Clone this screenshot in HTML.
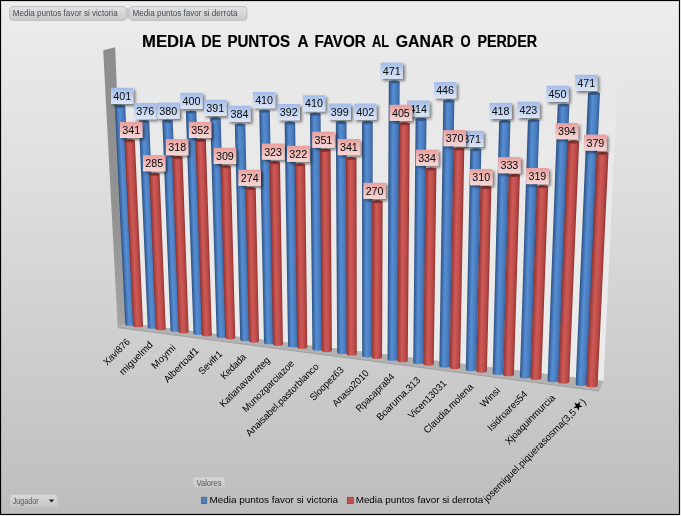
<!DOCTYPE html>
<html><head><meta charset="utf-8"><title>Media de puntos a favor al ganar o perder</title>
<style>
html,body{margin:0;padding:0;background:#fff;}
body{width:681px;height:516px;overflow:hidden;font-family:"Liberation Sans",sans-serif;}
svg{display:block;}
text{font-family:"Liberation Sans","DejaVu Sans",sans-serif;}
</style></head><body>
<svg width="681" height="516" viewBox="0 0 681 516">
<defs>
<linearGradient id="bg" x1="0" y1="0" x2="0" y2="1">
<stop offset="0" stop-color="#ededed"/><stop offset="0.4" stop-color="#dcdcdc"/><stop offset="1" stop-color="#bdbdbd"/>
</linearGradient>
<linearGradient id="gb" x1="0" y1="0" x2="1" y2="0">
<stop offset="0" stop-color="#2b4e7e"/><stop offset="0.12" stop-color="#3b66a1"/><stop offset="0.4" stop-color="#568ed4"/><stop offset="0.7" stop-color="#4b7fc1"/><stop offset="0.9" stop-color="#406dab"/><stop offset="1" stop-color="#345b92"/>
</linearGradient>
<linearGradient id="gr" x1="0" y1="0" x2="1" y2="0">
<stop offset="0" stop-color="#862f2d"/><stop offset="0.14" stop-color="#aa4340"/><stop offset="0.42" stop-color="#cf5a57"/><stop offset="0.7" stop-color="#c04e4b"/><stop offset="0.9" stop-color="#a7403d"/><stop offset="1" stop-color="#8b3230"/>
</linearGradient>
<linearGradient id="lb" x1="0" y1="0" x2="0" y2="1">
<stop offset="0" stop-color="#a3bce8"/><stop offset="1" stop-color="#dde6f6"/>
</linearGradient>
<linearGradient id="lr" x1="0" y1="0" x2="0" y2="1">
<stop offset="0" stop-color="#e89f9d"/><stop offset="1" stop-color="#f5d8d7"/>
</linearGradient>
<linearGradient id="btn" x1="0" y1="0" x2="0" y2="1">
<stop offset="0" stop-color="#e3e3e3"/><stop offset="0.5" stop-color="#d6d6d6"/><stop offset="1" stop-color="#c9c9c9"/>
</linearGradient>
<linearGradient id="btn2" x1="0" y1="0" x2="0" y2="1">
<stop offset="0" stop-color="#d8d8d8"/><stop offset="1" stop-color="#c6c6c6"/>
</linearGradient>
<linearGradient id="wall" x1="0" y1="0" x2="0" y2="1">
<stop offset="0" stop-color="#8d8d8d"/><stop offset="0.6" stop-color="#939393"/><stop offset="1" stop-color="#a4a4a4"/>
</linearGradient>
<linearGradient id="back" x1="0" y1="0" x2="0" y2="1">
<stop offset="0" stop-color="#e8e8e8"/><stop offset="1" stop-color="#ebebeb"/>
</linearGradient>
<filter id="sh" x="-20%" y="-20%" width="150%" height="160%">
<feGaussianBlur in="SourceAlpha" stdDeviation="1.4"/><feOffset dx="1.7" dy="1.7"/>
<feComponentTransfer><feFuncA type="linear" slope="0.5"/></feComponentTransfer>
<feMerge><feMergeNode/><feMergeNode in="SourceGraphic"/></feMerge>
</filter>
</defs>
<rect x="0" y="0" width="681" height="516" fill="#ffffff"/>
<rect x="0.5" y="0.5" width="679" height="514" fill="url(#bg)" stroke="#000" stroke-width="1.2"/>

<rect x="124" y="8.5" width="8" height="10" fill="#c8c8c8"/>
<rect x="9.5" y="6.6" width="117.0" height="13.8" rx="3.5" ry="3.5" fill="url(#btn)" stroke="#c0c0c0" stroke-width="1"/>
<text x="12.7" y="15.9" font-size="8.9" fill="#464b55" textLength="105" lengthAdjust="spacingAndGlyphs">Media puntos favor si victoria</text>
<rect x="129.3" y="6.6" width="117.7" height="13.8" rx="3.5" ry="3.5" fill="url(#btn)" stroke="#c0c0c0" stroke-width="1"/>
<text x="132.6" y="15.9" font-size="8.9" fill="#464b55" textLength="104.8" lengthAdjust="spacingAndGlyphs">Media puntos favor si derrota</text>
<text y="47.2" font-size="16.8" font-weight="bold" fill="#000" stroke="#000" stroke-width="0.2"><tspan x="142.0" textLength="53.1" lengthAdjust="spacingAndGlyphs">MEDIA</tspan> <tspan x="201.2" textLength="20.1" lengthAdjust="spacingAndGlyphs">DE</tspan> <tspan x="227.4" textLength="62.6" lengthAdjust="spacingAndGlyphs">PUNTOS</tspan> <tspan x="297.4" textLength="10.5" lengthAdjust="spacingAndGlyphs">A</tspan> <tspan x="314.4" textLength="51.5" lengthAdjust="spacingAndGlyphs">FAVOR</tspan> <tspan x="372.1" textLength="16.9" lengthAdjust="spacingAndGlyphs">AL</tspan> <tspan x="395.8" textLength="58.0" lengthAdjust="spacingAndGlyphs">GANAR</tspan> <tspan x="460.6" textLength="10.1" lengthAdjust="spacingAndGlyphs">O</tspan> <tspan x="477.5" textLength="59.5" lengthAdjust="spacingAndGlyphs">PERDER</tspan></text>
<polygon points="115.2,47.3 618,73.3 603.6,381 125,322.8" fill="url(#back)"/>
<polygon points="103.2,50.2 115.2,47.3 126,322.9 117.7,327.2" fill="url(#wall)"/>
<polygon points="117.7,327.6 125,322.8 603.6,381 599.2,391" fill="#b2b2b2"/>
<polyline points="117.7,327.6 599.2,391" fill="none" stroke="#a0a0a0" stroke-width="1"/>
<linearGradient id="gb1" href="#gb" gradientUnits="userSpaceOnUse" x1="120.03" y1="215.42" x2="130.24" y2="214.94"/>
<path d="M125.24,324.13 A5.00,1.7 0 0 0 135.24,324.13 L125.25,106.23 A5.22,1.53 0 0 0 114.81,106.23 Z" fill="url(#gb1)"/>
<ellipse cx="120.03" cy="106.23" rx="5.22" ry="1.53" fill="#3a6496"/>
<linearGradient id="gr2" href="#gr" gradientUnits="userSpaceOnUse" x1="128.76" y1="233.41" x2="138.94" y2="232.95"/>
<path d="M133.04,325.63 A5.00,1.7 0 0 0 143.04,325.63 L134.85,140.73 A5.18,1.53 0 0 0 124.48,140.73 Z" fill="url(#gr2)"/>
<ellipse cx="129.66" cy="140.73" rx="5.18" ry="1.53" fill="#963633"/>
<linearGradient id="gb3" href="#gb" gradientUnits="userSpaceOnUse" x1="143.30" y1="224.70" x2="153.49" y2="224.27"/>
<path d="M147.74,327.14 A5.00,1.7 0 0 0 157.74,327.14 L149.25,121.83 A5.21,1.53 0 0 0 138.84,121.83 Z" fill="url(#gb3)"/>
<ellipse cx="144.04" cy="121.83" rx="5.21" ry="1.53" fill="#3a6496"/>
<linearGradient id="gr4" href="#gr" gradientUnits="userSpaceOnUse" x1="152.51" y1="251.64" x2="162.66" y2="251.23"/>
<path d="M155.73,328.64 A5.00,1.7 0 0 0 165.73,328.64 L159.59,174.23 A5.15,1.53 0 0 0 149.28,174.23 Z" fill="url(#gr4)"/>
<ellipse cx="154.43" cy="174.23" rx="5.15" ry="1.53" fill="#963633"/>
<linearGradient id="gb5" href="#gb" gradientUnits="userSpaceOnUse" x1="166.43" y1="225.94" x2="176.63" y2="225.56"/>
<path d="M170.48,330.17 A5.00,1.7 0 0 0 180.48,330.17 L172.78,121.33 A5.21,1.53 0 0 0 162.36,121.33 Z" fill="url(#gb5)"/>
<ellipse cx="167.57" cy="121.33" rx="5.21" ry="1.53" fill="#3a6496"/>
<linearGradient id="gr6" href="#gr" gradientUnits="userSpaceOnUse" x1="175.42" y1="244.84" x2="185.59" y2="244.47"/>
<path d="M178.66,331.67 A5.00,1.7 0 0 0 188.66,331.67 L182.53,157.63 A5.17,1.53 0 0 0 172.18,157.63 Z" fill="url(#gr6)"/>
<ellipse cx="177.35" cy="157.63" rx="5.17" ry="1.53" fill="#963633"/>
<linearGradient id="gb7" href="#gb" gradientUnits="userSpaceOnUse" x1="189.67" y1="222.95" x2="199.90" y2="222.61"/>
<path d="M193.46,333.24 A5.00,1.7 0 0 0 203.47,333.24 L196.33,112.33 A5.22,1.53 0 0 0 185.88,112.33 Z" fill="url(#gb7)"/>
<ellipse cx="191.11" cy="112.33" rx="5.22" ry="1.53" fill="#3a6496"/>
<linearGradient id="gr8" href="#gr" gradientUnits="userSpaceOnUse" x1="198.66" y1="237.65" x2="208.85" y2="237.32"/>
<path d="M201.83,334.74 A5.00,1.7 0 0 0 211.84,334.74 L205.88,140.23 A5.20,1.53 0 0 0 195.48,140.23 Z" fill="url(#gr8)"/>
<ellipse cx="200.68" cy="140.23" rx="5.20" ry="1.53" fill="#963633"/>
<linearGradient id="gb9" href="#gb" gradientUnits="userSpaceOnUse" x1="213.47" y1="227.73" x2="223.70" y2="227.44"/>
<path d="M216.70,336.34 A5.01,1.7 0 0 0 226.71,336.34 L220.69,118.83 A5.23,1.53 0 0 0 210.24,118.83 Z" fill="url(#gb9)"/>
<ellipse cx="215.47" cy="118.83" rx="5.23" ry="1.53" fill="#3a6496"/>
<linearGradient id="gr10" href="#gr" gradientUnits="userSpaceOnUse" x1="222.87" y1="252.42" x2="233.05" y2="252.15"/>
<path d="M225.26,337.84 A5.01,1.7 0 0 0 235.27,337.84 L230.83,166.73 A5.18,1.53 0 0 0 220.47,166.73 Z" fill="url(#gr10)"/>
<ellipse cx="225.65" cy="166.73" rx="5.18" ry="1.53" fill="#963633"/>
<linearGradient id="gb11" href="#gb" gradientUnits="userSpaceOnUse" x1="237.52" y1="232.33" x2="247.76" y2="232.08"/>
<path d="M240.20,339.48 A5.01,1.7 0 0 0 250.23,339.48 L245.30,124.93 A5.23,1.53 0 0 0 234.84,124.93 Z" fill="url(#gb11)"/>
<ellipse cx="240.07" cy="124.93" rx="5.23" ry="1.53" fill="#3a6496"/>
<linearGradient id="gr12" href="#gr" gradientUnits="userSpaceOnUse" x1="247.18" y1="264.92" x2="257.36" y2="264.69"/>
<path d="M248.95,340.98 A5.01,1.7 0 0 0 258.98,340.98 L255.74,188.63 A5.17,1.53 0 0 0 245.41,188.63 Z" fill="url(#gr12)"/>
<ellipse cx="250.58" cy="188.63" rx="5.17" ry="1.53" fill="#963633"/>
<linearGradient id="gb13" href="#gb" gradientUnits="userSpaceOnUse" x1="261.65" y1="227.09" x2="271.92" y2="226.89"/>
<path d="M263.99,342.65 A5.02,1.7 0 0 0 274.03,342.65 L269.82,111.33 A5.26,1.53 0 0 0 259.30,111.33 Z" fill="url(#gb13)"/>
<ellipse cx="264.56" cy="111.33" rx="5.26" ry="1.53" fill="#3a6496"/>
<linearGradient id="gr14" href="#gr" gradientUnits="userSpaceOnUse" x1="271.25" y1="253.48" x2="281.48" y2="253.30"/>
<path d="M272.93,344.15 A5.02,1.7 0 0 0 282.97,344.15 L279.99,162.63 A5.21,1.53 0 0 0 269.58,162.63 Z" fill="url(#gr14)"/>
<ellipse cx="274.78" cy="162.63" rx="5.21" ry="1.53" fill="#963633"/>
<linearGradient id="gb15" href="#gb" gradientUnits="userSpaceOnUse" x1="286.35" y1="234.57" x2="296.65" y2="234.43"/>
<path d="M288.06,345.87 A5.04,1.7 0 0 0 298.14,345.87 L295.15,123.13 A5.26,1.53 0 0 0 284.63,123.13 Z" fill="url(#gb15)"/>
<ellipse cx="289.89" cy="123.13" rx="5.26" ry="1.53" fill="#3a6496"/>
<linearGradient id="gr16" href="#gr" gradientUnits="userSpaceOnUse" x1="295.95" y1="256.11" x2="306.21" y2="255.98"/>
<path d="M297.19,347.37 A5.04,1.7 0 0 0 307.27,347.37 L305.15,164.73 A5.22,1.53 0 0 0 294.71,164.73 Z" fill="url(#gr16)"/>
<ellipse cx="299.93" cy="164.73" rx="5.22" ry="1.53" fill="#963633"/>
<linearGradient id="gb17" href="#gb" gradientUnits="userSpaceOnUse" x1="311.21" y1="231.78" x2="321.56" y2="231.68"/>
<path d="M312.44,349.12 A5.06,1.7 0 0 0 322.56,349.12 L320.56,114.33 A5.30,1.53 0 0 0 309.97,114.33 Z" fill="url(#gb17)"/>
<ellipse cx="315.26" cy="114.33" rx="5.30" ry="1.53" fill="#3a6496"/>
<linearGradient id="gr18" href="#gr" gradientUnits="userSpaceOnUse" x1="320.89" y1="250.52" x2="331.21" y2="250.44"/>
<path d="M321.76,350.62 A5.06,1.7 0 0 0 331.88,350.62 L330.55,150.33 A5.26,1.53 0 0 0 320.03,150.33 Z" fill="url(#gr18)"/>
<ellipse cx="325.29" cy="150.33" rx="5.26" ry="1.53" fill="#963633"/>
<linearGradient id="gb19" href="#gb" gradientUnits="userSpaceOnUse" x1="336.50" y1="237.55" x2="346.90" y2="237.50"/>
<path d="M337.14,352.42 A5.08,1.7 0 0 0 347.30,352.42 L346.49,122.63 A5.32,1.53 0 0 0 335.86,122.63 Z" fill="url(#gb19)"/>
<ellipse cx="341.17" cy="122.63" rx="5.32" ry="1.53" fill="#3a6496"/>
<linearGradient id="gr20" href="#gr" gradientUnits="userSpaceOnUse" x1="346.29" y1="256.19" x2="356.65" y2="256.16"/>
<path d="M346.65,353.92 A5.08,1.7 0 0 0 356.81,353.92 L356.49,158.43 A5.28,1.53 0 0 0 345.93,158.43 Z" fill="url(#gr20)"/>
<ellipse cx="351.21" cy="158.43" rx="5.28" ry="1.53" fill="#963633"/>
<linearGradient id="gb21" href="#gb" gradientUnits="userSpaceOnUse" x1="362.10" y1="239.19" x2="372.56" y2="239.20"/>
<path d="M362.17,355.76 A5.11,1.7 0 0 0 372.39,355.76 L372.74,122.63 A5.35,1.53 0 0 0 362.03,122.63 Z" fill="url(#gb21)"/>
<ellipse cx="367.39" cy="122.63" rx="5.35" ry="1.53" fill="#3a6496"/>
<linearGradient id="gr22" href="#gr" gradientUnits="userSpaceOnUse" x1="371.97" y1="279.48" x2="382.36" y2="279.51"/>
<path d="M371.87,357.26 A5.11,1.7 0 0 0 382.09,357.26 L382.62,201.73 A5.27,1.53 0 0 0 372.08,201.73 Z" fill="url(#gr22)"/>
<ellipse cx="377.35" cy="201.73" rx="5.27" ry="1.53" fill="#963633"/>
<linearGradient id="gb23" href="#gb" gradientUnits="userSpaceOnUse" x1="388.16" y1="220.56" x2="398.74" y2="220.62"/>
<path d="M387.53,359.15 A5.15,1.7 0 0 0 397.83,359.15 L399.66,82.03 A5.44,1.53 0 0 0 388.79,82.03 Z" fill="url(#gb23)"/>
<ellipse cx="394.22" cy="82.03" rx="5.44" ry="1.53" fill="#3a6496"/>
<linearGradient id="gr24" href="#gr" gradientUnits="userSpaceOnUse" x1="398.20" y1="242.15" x2="408.74" y2="242.23"/>
<path d="M397.42,360.65 A5.15,1.7 0 0 0 407.72,360.65 L409.76,123.73 A5.39,1.53 0 0 0 398.97,123.73 Z" fill="url(#gr24)"/>
<ellipse cx="404.36" cy="123.73" rx="5.39" ry="1.53" fill="#963633"/>
<linearGradient id="gb25" href="#gb" gradientUnits="userSpaceOnUse" x1="414.43" y1="241.00" x2="425.07" y2="241.11"/>
<path d="M413.25,362.58 A5.19,1.7 0 0 0 423.64,362.58 L426.50,119.53 A5.45,1.53 0 0 0 415.61,119.53 Z" fill="url(#gb25)"/>
<ellipse cx="421.06" cy="119.53" rx="5.45" ry="1.53" fill="#3a6496"/>
<linearGradient id="gr26" href="#gr" gradientUnits="userSpaceOnUse" x1="424.48" y1="266.54" x2="435.07" y2="266.67"/>
<path d="M423.33,364.08 A5.19,1.7 0 0 0 433.72,364.08 L436.41,169.13 A5.40,1.53 0 0 0 425.62,169.13 Z" fill="url(#gr26)"/>
<ellipse cx="431.02" cy="169.13" rx="5.40" ry="1.53" fill="#963633"/>
<linearGradient id="gb27" href="#gb" gradientUnits="userSpaceOnUse" x1="441.32" y1="233.51" x2="452.09" y2="233.68"/>
<path d="M439.34,366.06 A5.24,1.7 0 0 0 449.83,366.06 L454.35,101.13 A5.52,1.53 0 0 0 443.30,101.13 Z" fill="url(#gb27)"/>
<ellipse cx="448.82" cy="101.13" rx="5.52" ry="1.53" fill="#3a6496"/>
<linearGradient id="gr28" href="#gr" gradientUnits="userSpaceOnUse" x1="451.47" y1="258.15" x2="462.19" y2="258.34"/>
<path d="M449.61,367.56 A5.24,1.7 0 0 0 460.10,367.56 L464.28,148.93 A5.48,1.53 0 0 0 453.33,148.93 Z" fill="url(#gr28)"/>
<ellipse cx="458.81" cy="148.93" rx="5.48" ry="1.53" fill="#963633"/>
<linearGradient id="gb29" href="#gb" gradientUnits="userSpaceOnUse" x1="468.03" y1="259.55" x2="478.87" y2="259.78"/>
<path d="M465.80,369.60 A5.31,1.7 0 0 0 476.41,369.60 L481.34,149.73 A5.54,1.53 0 0 0 470.26,149.73 Z" fill="url(#gb29)"/>
<ellipse cx="475.80" cy="149.73" rx="5.54" ry="1.53" fill="#3a6496"/>
<linearGradient id="gr30" href="#gr" gradientUnits="userSpaceOnUse" x1="478.32" y1="279.19" x2="489.12" y2="279.44"/>
<path d="M476.26,371.10 A5.31,1.7 0 0 0 486.87,371.10 L491.38,187.53 A5.50,1.53 0 0 0 480.37,187.53 Z" fill="url(#gr30)"/>
<ellipse cx="485.87" cy="187.53" rx="5.50" ry="1.53" fill="#963633"/>
<linearGradient id="gb31" href="#gb" gradientUnits="userSpaceOnUse" x1="495.89" y1="247.21" x2="506.91" y2="247.50"/>
<path d="M492.65,373.18 A5.38,1.7 0 0 0 503.40,373.18 L510.42,121.53 A5.65,1.53 0 0 0 499.12,121.53 Z" fill="url(#gb31)"/>
<ellipse cx="504.77" cy="121.53" rx="5.65" ry="1.53" fill="#3a6496"/>
<linearGradient id="gr32" href="#gr" gradientUnits="userSpaceOnUse" x1="505.92" y1="274.95" x2="516.89" y2="275.26"/>
<path d="M503.15,374.68 A5.38,1.7 0 0 0 513.90,374.68 L519.88,175.53 A5.59,1.53 0 0 0 508.69,175.53 Z" fill="url(#gr32)"/>
<ellipse cx="514.29" cy="175.53" rx="5.59" ry="1.53" fill="#963633"/>
<linearGradient id="gb33" href="#gb" gradientUnits="userSpaceOnUse" x1="523.90" y1="248.59" x2="535.09" y2="248.96"/>
<path d="M519.90,376.82 A5.46,1.7 0 0 0 530.81,376.82 L539.37,120.73 A5.74,1.53 0 0 0 527.90,120.73 Z" fill="url(#gb33)"/>
<ellipse cx="533.64" cy="120.73" rx="5.74" ry="1.53" fill="#3a6496"/>
<linearGradient id="gr34" href="#gr" gradientUnits="userSpaceOnUse" x1="533.64" y1="282.33" x2="544.76" y2="282.72"/>
<path d="M530.44,378.32 A5.46,1.7 0 0 0 541.35,378.32 L548.17,186.73 A5.67,1.53 0 0 0 536.83,186.73 Z" fill="url(#gr34)"/>
<ellipse cx="542.50" cy="186.73" rx="5.67" ry="1.53" fill="#963633"/>
<linearGradient id="gb35" href="#gb" gradientUnits="userSpaceOnUse" x1="552.63" y1="242.70" x2="564.03" y2="243.14"/>
<path d="M547.56,380.51 A5.55,1.7 0 0 0 558.66,380.51 L569.41,105.33 A5.86,1.53 0 0 0 557.70,105.33 Z" fill="url(#gb35)"/>
<ellipse cx="563.56" cy="105.33" rx="5.86" ry="1.53" fill="#3a6496"/>
<linearGradient id="gr36" href="#gr" gradientUnits="userSpaceOnUse" x1="562.82" y1="261.84" x2="574.18" y2="262.30"/>
<path d="M558.14,382.01 A5.55,1.7 0 0 0 569.24,382.01 L579.13,142.13 A5.82,1.53 0 0 0 567.49,142.13 Z" fill="url(#gr36)"/>
<ellipse cx="573.31" cy="142.13" rx="5.82" ry="1.53" fill="#963633"/>
<linearGradient id="gb37" href="#gb" gradientUnits="userSpaceOnUse" x1="581.84" y1="238.64" x2="593.46" y2="239.15"/>
<path d="M575.65,384.26 A5.65,1.7 0 0 0 586.95,384.26 L599.98,93.53 A5.98,1.53 0 0 0 588.02,93.53 Z" fill="url(#gb37)"/>
<ellipse cx="594.00" cy="93.53" rx="5.98" ry="1.53" fill="#3a6496"/>
<linearGradient id="gr38" href="#gr" gradientUnits="userSpaceOnUse" x1="591.47" y1="269.38" x2="603.02" y2="269.91"/>
<path d="M586.27,385.76 A5.65,1.7 0 0 0 597.57,385.76 L608.48,153.53 A5.92,1.53 0 0 0 596.65,153.53 Z" fill="url(#gr38)"/>
<ellipse cx="602.57" cy="153.53" rx="5.92" ry="1.53" fill="#963633"/>
<g filter="url(#sh)"><rect x="111.0" y="87.8" width="22.3" height="16.2" fill="url(#lb)"/></g>
 <text x="122.2" y="99.8" font-size="10" text-anchor="middle" fill="#0a0a0a" textLength="17.9" lengthAdjust="spacingAndGlyphs">401</text>
<g filter="url(#sh)"><rect x="134.1" y="103.0" width="22.3" height="16.2" fill="url(#lb)"/></g>
 <text x="145.2" y="115.0" font-size="10" text-anchor="middle" fill="#0a0a0a" textLength="17.9" lengthAdjust="spacingAndGlyphs">376</text>
<g filter="url(#sh)"><rect x="157.2" y="102.6" width="22.3" height="16.2" fill="url(#lb)"/></g>
 <text x="168.3" y="114.6" font-size="10" text-anchor="middle" fill="#0a0a0a" textLength="17.9" lengthAdjust="spacingAndGlyphs">380</text>
<g filter="url(#sh)"><rect x="180.3" y="92.8" width="22.3" height="16.2" fill="url(#lb)"/></g>
 <text x="191.5" y="104.8" font-size="10" text-anchor="middle" fill="#0a0a0a" textLength="17.9" lengthAdjust="spacingAndGlyphs">400</text>
<g filter="url(#sh)"><rect x="204.2" y="99.8" width="22.3" height="16.2" fill="url(#lb)"/></g>
 <text x="215.3" y="111.8" font-size="10" text-anchor="middle" fill="#0a0a0a" textLength="17.9" lengthAdjust="spacingAndGlyphs">391</text>
<g filter="url(#sh)"><rect x="228.3" y="105.7" width="22.3" height="16.2" fill="url(#lb)"/></g>
 <text x="239.5" y="117.7" font-size="10" text-anchor="middle" fill="#0a0a0a" textLength="17.9" lengthAdjust="spacingAndGlyphs">384</text>
<g filter="url(#sh)"><rect x="253.0" y="92.0" width="22.3" height="16.2" fill="url(#lb)"/></g>
 <text x="264.1" y="104.0" font-size="10" text-anchor="middle" fill="#0a0a0a" textLength="17.9" lengthAdjust="spacingAndGlyphs">410</text>
<g filter="url(#sh)"><rect x="277.7" y="104.0" width="22.3" height="16.2" fill="url(#lb)"/></g>
 <text x="288.8" y="116.0" font-size="10" text-anchor="middle" fill="#0a0a0a" textLength="17.9" lengthAdjust="spacingAndGlyphs">392</text>
<g filter="url(#sh)"><rect x="302.9" y="95.3" width="22.3" height="16.2" fill="url(#lb)"/></g>
 <text x="314.0" y="107.3" font-size="10" text-anchor="middle" fill="#0a0a0a" textLength="17.9" lengthAdjust="spacingAndGlyphs">410</text>
<g filter="url(#sh)"><rect x="328.6" y="103.6" width="22.3" height="16.2" fill="url(#lb)"/></g>
 <text x="339.8" y="115.6" font-size="10" text-anchor="middle" fill="#0a0a0a" textLength="17.9" lengthAdjust="spacingAndGlyphs">399</text>
<g filter="url(#sh)"><rect x="354.2" y="103.6" width="22.3" height="16.2" fill="url(#lb)"/></g>
 <text x="365.3" y="115.6" font-size="10" text-anchor="middle" fill="#0a0a0a" textLength="17.9" lengthAdjust="spacingAndGlyphs">402</text>
<g filter="url(#sh)"><rect x="380.6" y="62.6" width="22.3" height="16.2" fill="url(#lb)"/></g>
 <text x="391.8" y="74.6" font-size="10" text-anchor="middle" fill="#0a0a0a" textLength="17.9" lengthAdjust="spacingAndGlyphs">471</text>
<g filter="url(#sh)"><rect x="407.0" y="100.5" width="22.3" height="16.2" fill="url(#lb)"/></g>
 <text x="418.1" y="112.5" font-size="10" text-anchor="middle" fill="#0a0a0a" textLength="17.9" lengthAdjust="spacingAndGlyphs">414</text>
<g filter="url(#sh)"><rect x="434.0" y="82.1" width="22.3" height="16.2" fill="url(#lb)"/></g>
 <text x="445.1" y="94.1" font-size="10" text-anchor="middle" fill="#0a0a0a" textLength="17.9" lengthAdjust="spacingAndGlyphs">446</text>
<g filter="url(#sh)"><rect x="461.0" y="130.8" width="22.3" height="16.2" fill="url(#lb)"/></g>
 <text x="472.1" y="142.8" font-size="10" text-anchor="middle" fill="#0a0a0a" textLength="17.9" lengthAdjust="spacingAndGlyphs">371</text>
<g filter="url(#sh)"><rect x="489.5" y="102.8" width="22.3" height="16.2" fill="url(#lb)"/></g>
 <text x="500.6" y="114.8" font-size="10" text-anchor="middle" fill="#0a0a0a" textLength="17.9" lengthAdjust="spacingAndGlyphs">418</text>
<g filter="url(#sh)"><rect x="517.2" y="101.8" width="22.3" height="16.2" fill="url(#lb)"/></g>
 <text x="528.4" y="113.8" font-size="10" text-anchor="middle" fill="#0a0a0a" textLength="17.9" lengthAdjust="spacingAndGlyphs">423</text>
<g filter="url(#sh)"><rect x="546.4" y="85.8" width="22.3" height="16.2" fill="url(#lb)"/></g>
 <text x="557.5" y="97.8" font-size="10" text-anchor="middle" fill="#0a0a0a" textLength="17.9" lengthAdjust="spacingAndGlyphs">450</text>
<g filter="url(#sh)"><rect x="575.1" y="74.8" width="22.3" height="16.2" fill="url(#lb)"/></g>
 <text x="586.2" y="86.8" font-size="10" text-anchor="middle" fill="#0a0a0a" textLength="17.9" lengthAdjust="spacingAndGlyphs">471</text>
<g filter="url(#sh)"><rect x="120.0" y="121.9" width="22.5" height="16.1" fill="url(#lr)"/></g>
 <text x="131.2" y="133.8" font-size="10" text-anchor="middle" fill="#0a0a0a" textLength="17.9" lengthAdjust="spacingAndGlyphs">341</text>
<g filter="url(#sh)"><rect x="143.0" y="155.2" width="22.5" height="16.1" fill="url(#lr)"/></g>
 <text x="154.2" y="167.1" font-size="10" text-anchor="middle" fill="#0a0a0a" textLength="17.9" lengthAdjust="spacingAndGlyphs">285</text>
<g filter="url(#sh)"><rect x="165.9" y="139.1" width="22.5" height="16.1" fill="url(#lr)"/></g>
 <text x="177.2" y="151.0" font-size="10" text-anchor="middle" fill="#0a0a0a" textLength="17.9" lengthAdjust="spacingAndGlyphs">318</text>
<g filter="url(#sh)"><rect x="188.9" y="121.9" width="22.5" height="16.1" fill="url(#lr)"/></g>
 <text x="200.2" y="133.8" font-size="10" text-anchor="middle" fill="#0a0a0a" textLength="17.9" lengthAdjust="spacingAndGlyphs">352</text>
<g filter="url(#sh)"><rect x="213.7" y="147.8" width="22.5" height="16.1" fill="url(#lr)"/></g>
 <text x="224.9" y="159.7" font-size="10" text-anchor="middle" fill="#0a0a0a" textLength="17.9" lengthAdjust="spacingAndGlyphs">309</text>
<g filter="url(#sh)"><rect x="238.4" y="169.7" width="22.5" height="16.1" fill="url(#lr)"/></g>
 <text x="249.7" y="181.6" font-size="10" text-anchor="middle" fill="#0a0a0a" textLength="17.9" lengthAdjust="spacingAndGlyphs">274</text>
<g filter="url(#sh)"><rect x="261.9" y="143.6" width="22.5" height="16.1" fill="url(#lr)"/></g>
 <text x="273.1" y="155.5" font-size="10" text-anchor="middle" fill="#0a0a0a" textLength="17.9" lengthAdjust="spacingAndGlyphs">323</text>
<g filter="url(#sh)"><rect x="287.0" y="145.8" width="22.5" height="16.1" fill="url(#lr)"/></g>
 <text x="298.2" y="157.7" font-size="10" text-anchor="middle" fill="#0a0a0a" textLength="17.9" lengthAdjust="spacingAndGlyphs">322</text>
<g filter="url(#sh)"><rect x="312.2" y="131.7" width="22.5" height="16.1" fill="url(#lr)"/></g>
 <text x="323.4" y="143.6" font-size="10" text-anchor="middle" fill="#0a0a0a" textLength="17.9" lengthAdjust="spacingAndGlyphs">351</text>
<g filter="url(#sh)"><rect x="337.7" y="139.0" width="22.5" height="16.1" fill="url(#lr)"/></g>
 <text x="348.9" y="150.9" font-size="10" text-anchor="middle" fill="#0a0a0a" textLength="17.9" lengthAdjust="spacingAndGlyphs">341</text>
<g filter="url(#sh)"><rect x="363.4" y="182.8" width="22.5" height="16.1" fill="url(#lr)"/></g>
 <text x="374.6" y="194.7" font-size="10" text-anchor="middle" fill="#0a0a0a" textLength="17.9" lengthAdjust="spacingAndGlyphs">270</text>
<g filter="url(#sh)"><rect x="389.6" y="104.8" width="22.5" height="16.1" fill="url(#lr)"/></g>
 <text x="400.9" y="116.7" font-size="10" text-anchor="middle" fill="#0a0a0a" textLength="17.9" lengthAdjust="spacingAndGlyphs">405</text>
<g filter="url(#sh)"><rect x="415.8" y="149.7" width="22.5" height="16.1" fill="url(#lr)"/></g>
 <text x="427.1" y="161.6" font-size="10" text-anchor="middle" fill="#0a0a0a" textLength="17.9" lengthAdjust="spacingAndGlyphs">334</text>
<g filter="url(#sh)"><rect x="443.3" y="130.1" width="22.5" height="16.1" fill="url(#lr)"/></g>
 <text x="454.6" y="142.0" font-size="10" text-anchor="middle" fill="#0a0a0a" textLength="17.9" lengthAdjust="spacingAndGlyphs">370</text>
<g filter="url(#sh)"><rect x="470.0" y="169.1" width="22.5" height="16.1" fill="url(#lr)"/></g>
 <text x="481.2" y="181.0" font-size="10" text-anchor="middle" fill="#0a0a0a" textLength="17.9" lengthAdjust="spacingAndGlyphs">310</text>
<g filter="url(#sh)"><rect x="498.1" y="157.1" width="22.5" height="16.1" fill="url(#lr)"/></g>
 <text x="509.4" y="169.0" font-size="10" text-anchor="middle" fill="#0a0a0a" textLength="17.9" lengthAdjust="spacingAndGlyphs">333</text>
<g filter="url(#sh)"><rect x="526.1" y="168.0" width="22.5" height="16.1" fill="url(#lr)"/></g>
 <text x="537.4" y="179.9" font-size="10" text-anchor="middle" fill="#0a0a0a" textLength="17.9" lengthAdjust="spacingAndGlyphs">319</text>
<g filter="url(#sh)"><rect x="555.6" y="123.1" width="22.5" height="16.1" fill="url(#lr)"/></g>
 <text x="566.9" y="135.0" font-size="10" text-anchor="middle" fill="#0a0a0a" textLength="17.9" lengthAdjust="spacingAndGlyphs">394</text>
<g filter="url(#sh)"><rect x="584.1" y="134.6" width="22.5" height="16.1" fill="url(#lr)"/></g>
 <text x="595.4" y="146.5" font-size="10" text-anchor="middle" fill="#0a0a0a" textLength="17.9" lengthAdjust="spacingAndGlyphs">379</text>
<text transform="translate(130.6,342.5) rotate(-45)" x="0" y="0" font-size="9.8" text-anchor="end" fill="#000" textLength="33.1" lengthAdjust="spacingAndGlyphs">Xavi876</text>
<text transform="translate(153.3,345.5) rotate(-45)" x="0" y="0" font-size="9.8" text-anchor="end" fill="#000" textLength="42.4" lengthAdjust="spacingAndGlyphs">miguelmd</text>
<text transform="translate(176.3,348.5) rotate(-45)" x="0" y="0" font-size="9.8" text-anchor="end" fill="#000" textLength="29.7" lengthAdjust="spacingAndGlyphs">Moymi</text>
<text transform="translate(199.4,351.5) rotate(-45)" x="0" y="0" font-size="9.8" text-anchor="end" fill="#000" textLength="44.9" lengthAdjust="spacingAndGlyphs">Albertoaf1</text>
<text transform="translate(222.9,354.6) rotate(-45)" x="0" y="0" font-size="9.8" text-anchor="end" fill="#000" textLength="29.1" lengthAdjust="spacingAndGlyphs">Sevifr1</text>
<text transform="translate(246.6,357.7) rotate(-45)" x="0" y="0" font-size="9.8" text-anchor="end" fill="#000" textLength="31.3" lengthAdjust="spacingAndGlyphs">Kedada</text>
<text transform="translate(270.5,360.9) rotate(-45)" x="0" y="0" font-size="9.8" text-anchor="end" fill="#000" textLength="66.4" lengthAdjust="spacingAndGlyphs">Katianavarreteg</text>
<text transform="translate(294.8,364.1) rotate(-45)" x="0" y="0" font-size="9.8" text-anchor="end" fill="#000" textLength="68.7" lengthAdjust="spacingAndGlyphs">Munozgarciazoe</text>
<text transform="translate(319.4,367.3) rotate(-45)" x="0" y="0" font-size="9.8" text-anchor="end" fill="#000" textLength="98.6" lengthAdjust="spacingAndGlyphs">Anaisabel.pastorblanco</text>
<text transform="translate(344.3,370.6) rotate(-45)" x="0" y="0" font-size="9.8" text-anchor="end" fill="#000" textLength="43.3" lengthAdjust="spacingAndGlyphs">Sloopez63</text>
<text transform="translate(369.5,373.9) rotate(-45)" x="0" y="0" font-size="9.8" text-anchor="end" fill="#000" textLength="47.1" lengthAdjust="spacingAndGlyphs">Anaso2010</text>
<text transform="translate(395.0,377.3) rotate(-45)" x="0" y="0" font-size="9.8" text-anchor="end" fill="#000" textLength="49.8" lengthAdjust="spacingAndGlyphs">Rpacapra84</text>
<text transform="translate(420.9,380.7) rotate(-45)" x="0" y="0" font-size="9.8" text-anchor="end" fill="#000" textLength="57.0" lengthAdjust="spacingAndGlyphs">Boaruma.313</text>
<text transform="translate(447.2,384.1) rotate(-45)" x="0" y="0" font-size="9.8" text-anchor="end" fill="#000" textLength="49.7" lengthAdjust="spacingAndGlyphs">Vicen13031</text>
<text transform="translate(473.9,387.6) rotate(-45)" x="0" y="0" font-size="9.8" text-anchor="end" fill="#000" textLength="65.7" lengthAdjust="spacingAndGlyphs">Claudia.molena</text>
<text transform="translate(500.7,391.2) rotate(-45)" x="0" y="0" font-size="9.8" text-anchor="end" fill="#000" textLength="23.6" lengthAdjust="spacingAndGlyphs">Winsi</text>
<text transform="translate(528.0,394.8) rotate(-45)" x="0" y="0" font-size="9.8" text-anchor="end" fill="#000" textLength="51.8" lengthAdjust="spacingAndGlyphs">Isidroares54</text>
<text transform="translate(555.7,398.4) rotate(-45)" x="0" y="0" font-size="9.8" text-anchor="end" fill="#000" textLength="66.2" lengthAdjust="spacingAndGlyphs">Xjoaquinmurcia</text>
<text transform="translate(586.9,402.7) rotate(-45)" x="0" y="0" font-size="9.8" text-anchor="end" fill="#000" textLength="141.0" lengthAdjust="spacingAndGlyphs">josemiguel.piquerasosma(3,5<tspan font-size="12.5">★</tspan>)</text>
<rect x="193" y="477" width="32" height="10.5" rx="2.5" ry="2.5" fill="url(#btn2)" stroke="#c4c4c4" stroke-width="0.8"/>
<text x="196.5" y="485.6" font-size="8.2" fill="#50555c" textLength="25" lengthAdjust="spacingAndGlyphs">Valores</text>
<rect x="201.5" y="497.3" width="5.2" height="6.2" fill="#4f81bd" stroke="#3a64a0" stroke-width="0.8"/>
<text x="209.5" y="502.7" font-size="9.8" fill="#000" textLength="128.5" lengthAdjust="spacingAndGlyphs">Media puntos favor si victoria</text>
<rect x="347.3" y="497.3" width="6" height="6.2" fill="#c0504d" stroke="#9b3c3a" stroke-width="0.8"/>
<text x="355.7" y="502.7" font-size="9.8" fill="#000" textLength="127.5" lengthAdjust="spacingAndGlyphs">Media puntos favor si derrota</text>
<rect x="10" y="494.5" width="47.5" height="12.5" rx="2.5" ry="2.5" fill="url(#btn2)" stroke="#c6c6c6" stroke-width="0.8"/>
<text x="12.8" y="504" font-size="8.2" fill="#50555c" textLength="25.8" lengthAdjust="spacingAndGlyphs">Jugador</text>
<polygon points="48.8,499.5 54.2,499.5 51.5,502.6" fill="#222"/>
</svg>
</body></html>
